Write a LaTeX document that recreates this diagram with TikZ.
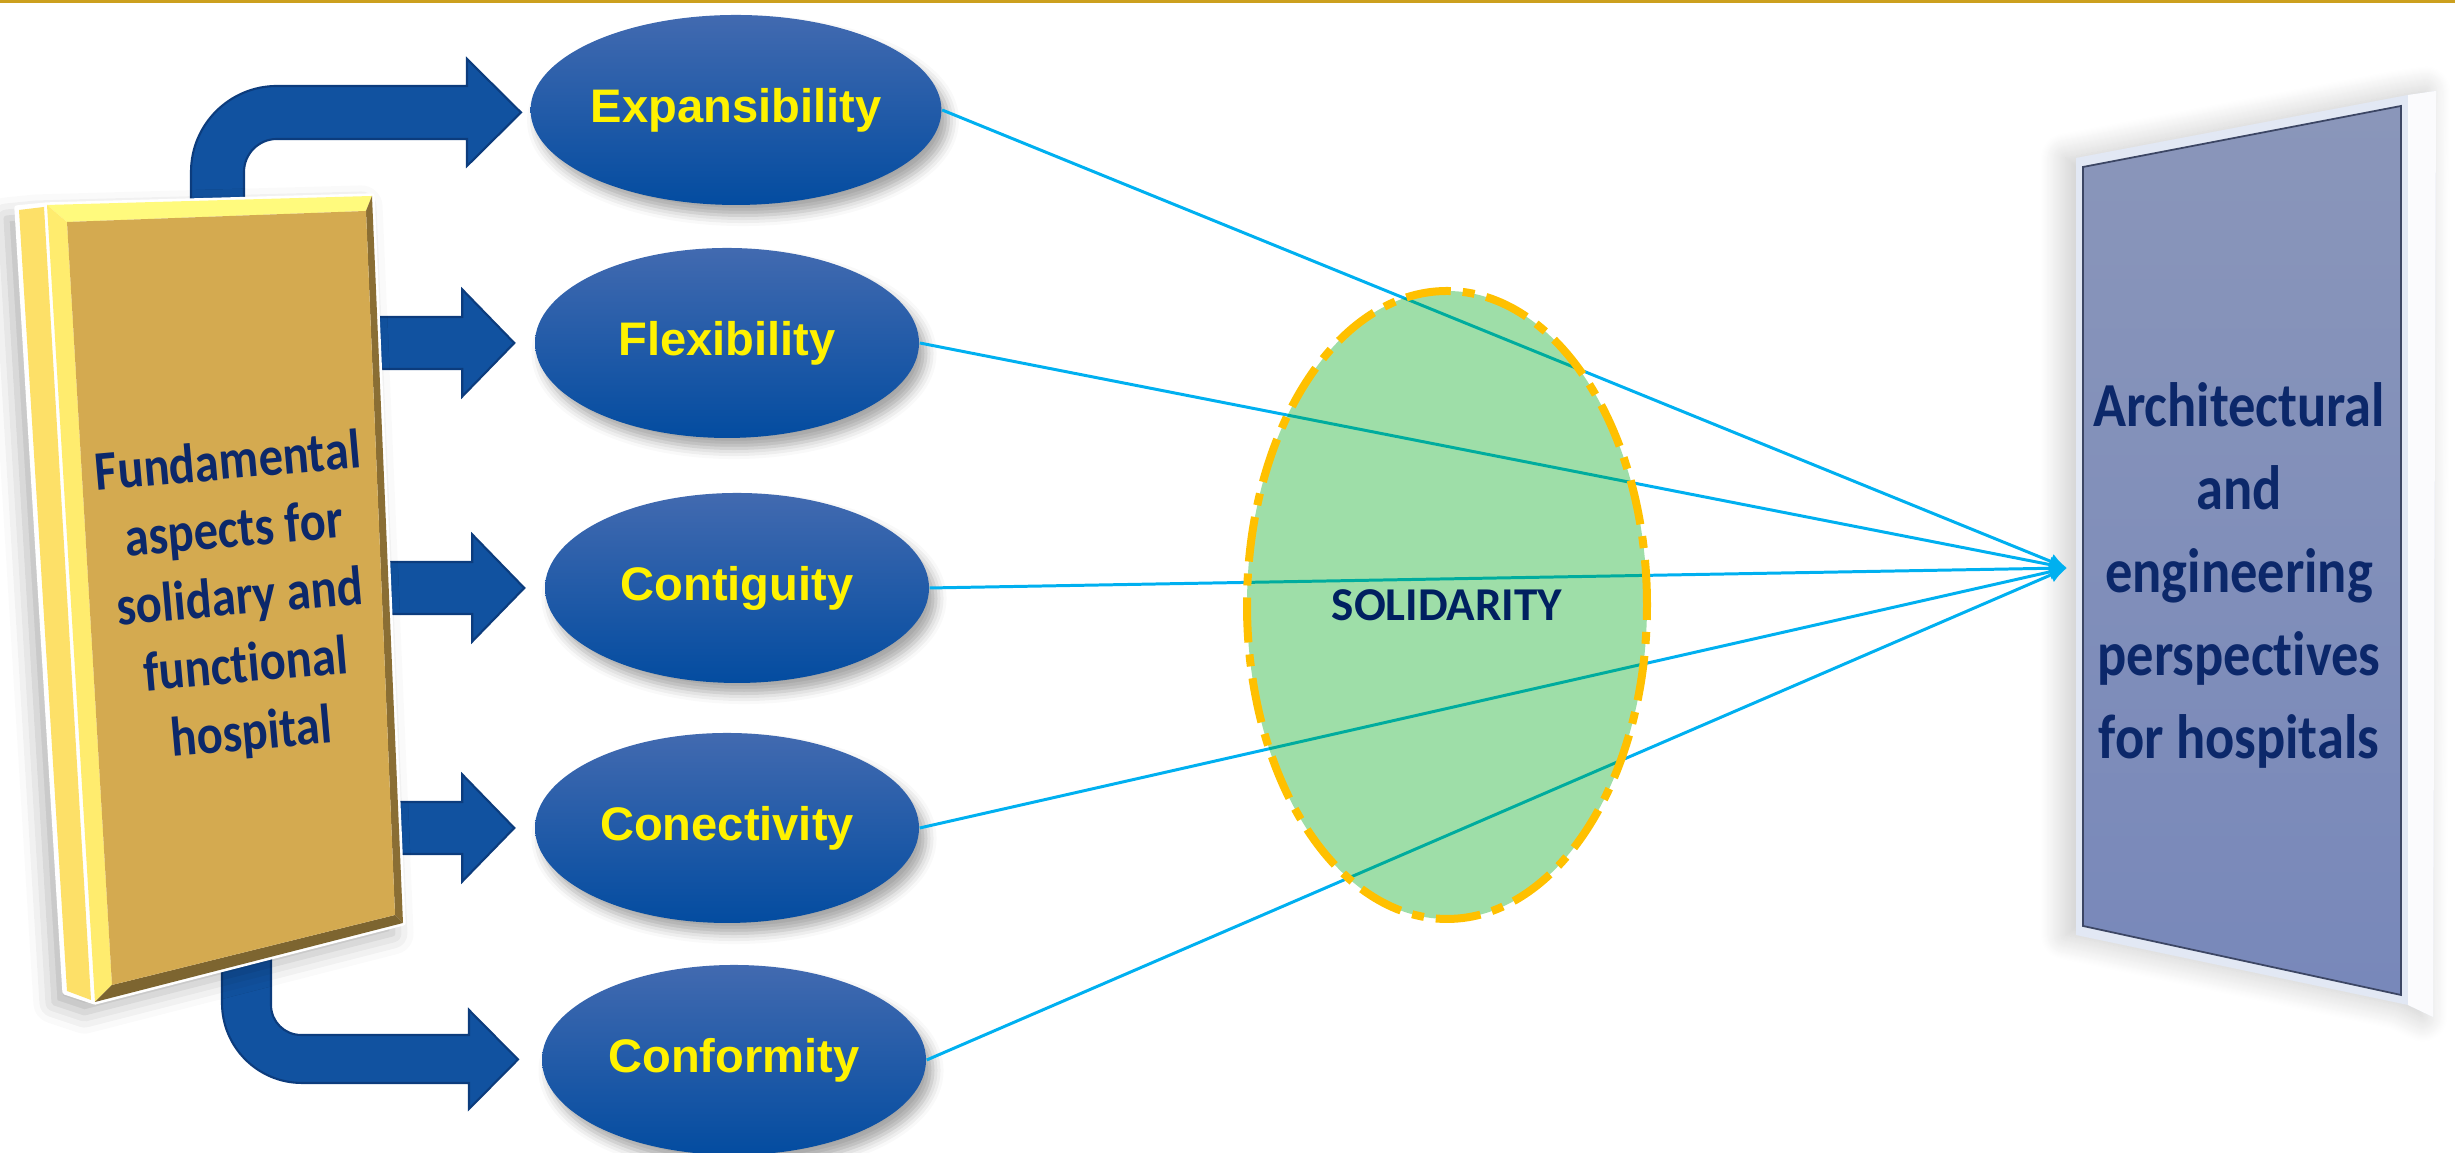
\documentclass[tikz,border=0pt]{standalone}
\usepackage{graphicx}
\usepackage{fontspec}
\setmainfont{Carlito}[Ligatures={NoCommon,NoContextual}]
\newfontfamily\labelfont{Liberation Sans}
\usetikzlibrary{arrows.meta, shapes.geometric, calc, shadows.blur}

\definecolor{rulegold}{RGB}{204,160,30}
\definecolor{navy}{RGB}{12,40,106}
\definecolor{deepnavy}{RGB}{0,32,96}
\definecolor{elltop}{RGB}{66,106,176}
\definecolor{ellbot}{RGB}{3,76,160}
\definecolor{arrowblue}{RGB}{17,82,160}
\definecolor{arrowedge}{RGB}{12,60,125}
\definecolor{linkcyan}{RGB}{0,176,240}
\definecolor{solidgreen}{RGB}{0,168,26}
\definecolor{dashgold}{RGB}{255,192,0}
\definecolor{spine}{RGB}{253,224,104}
\definecolor{boxface}{RGB}{212,170,80}
\definecolor{bevtop}{RGB}{255,250,125}
\definecolor{bevleft}{RGB}{255,236,110}
\definecolor{bevright}{RGB}{138,110,52}
\definecolor{bevbot}{RGB}{125,101,48}
\definecolor{facetop}{RGB}{138,150,186}
\definecolor{facebot}{RGB}{120,136,186}
\definecolor{frameband}{RGB}{226,232,244}
\definecolor{frameline}{RGB}{60,70,100}

% straight block arrow: #1 target ellipse, #2 x where the shaft starts
\newcommand{\blockarrow}[2]{%
  \draw[barrow] let \p1=([xshift=-2mm]#1.west) in
    (\p1) -- (\x1-0.52cm,\y1+0.535cm) -- (\x1-0.52cm,\y1+0.26cm) -- (#2cm,\y1+0.26cm)
    -- (#2cm,\y1-0.26cm) -- (\x1-0.52cm,\y1-0.26cm) -- (\x1-0.52cm,\y1-0.535cm) -- cycle;}

% stacked lines, a little taller than the font
\newcommand{\tallstack}[1]{\scalebox{1}[1.15]{\begin{tabular}{@{}c@{}}#1\end{tabular}}}

\begin{document}
\begin{tikzpicture}

	\tikzstyle{aspect}=[ellipse, inner sep=0pt, minimum width=3.84cm, minimum height=1.9cm, top color=elltop, bottom color=ellbot, text=yellow, font=\labelfont\bfseries\fontsize{13.4}{16}\selectfont, blur shadow={shadow xshift=2pt, shadow yshift=-3pt, shadow blur radius=3pt, shadow opacity=35}]
	\tikzstyle{barrow}=[fill=arrowblue, draw=arrowedge, line width=0.6pt]
	\tikzstyle{link}=[linkcyan, line width=0.85pt, -{Latex[length=5pt, width=4.5pt]}]
	\tikzstyle{solid}=[ellipse, inner sep=0pt, minimum width=4cm, minimum height=6.28cm, fill=solidgreen, fill opacity=0.38, text opacity=1, draw=dashgold, draw opacity=1, line width=0.08cm, dash pattern=on 0.45cm off 0.12cm on 0.12cm off 0.12cm, text=deepnavy, font=\bfseries\fontsize{13.4}{16}\selectfont]

	\useasboundingbox (0,0) rectangle (24.55,11.53);
	\draw[rulegold, line width=0.03cm] (0,11.515) -- (24.55,11.515);

	% panel on the right
	\fill[frameband, blur shadow={shadow xshift=-3pt, shadow yshift=0pt, shadow blur radius=7pt, shadow blur steps=24, shadow opacity=22}] (20.76,9.95) -- (24.08,10.58) -- (24.36,10.62) -- (24.33,1.36) -- (24.08,1.48) -- (20.76,2.18) -- cycle;
	\fill[white!85!frameband] (24.08,10.58) -- (24.36,10.62) -- (24.33,1.36) -- (24.08,1.48) -- cycle;
	\draw[frameline, line width=0.5pt, top color=facetop, bottom color=facebot] (20.83,9.86) -- (24.01,10.47) -- (24.01,1.58) -- (20.83,2.27) -- cycle;
	\node[text=navy, font=\bfseries\fontsize{15.5}{20.5}\selectfont] (persp) at (22.39,5.77) {\tallstack{Architectural\\and\\engineering\\perspectives\\for hospitals}};
	\coordinate (goal) at (20.67,5.85);

	% the five aspects
	\node[aspect] (exp) at (7.36,10.43) {Expansibility};
	\node[aspect] (flex) at (7.27,8.10) {Flexibility};
	\node[aspect] (cont) at (7.37,5.65) {Contiguity};
	\node[aspect] (conn) at (7.27,3.25) {Conectivity};
	\node[aspect] (conf) at (7.34,0.93) {Conformity};

	% block arrows out of the box
	\draw[barrow] (1.91,9.13) -- (1.91,9.81) arc (180:90:0.86) -- (4.67,10.67) -- (4.67,10.94) -- (5.21,10.405) -- (4.67,9.87) -- (4.67,10.14) -- (2.77,10.14) arc (90:180:0.33) -- (2.44,9.13) -- cycle;
	\blockarrow{flex}{3.5}
	\blockarrow{cont}{3.6}
	\blockarrow{conn}{3.7}
	\draw[barrow] (2.22,2.23) -- (2.22,1.50) arc (180:270:0.80) -- (4.69,0.70) -- (4.69,0.44) -- (5.18,0.935) -- (4.69,1.43) -- (4.69,1.18) -- (3.01,1.18) arc (270:180:0.30) -- (2.71,2.23) -- cycle;

	% book-like box
	\coordinate (o1) at (0.47,9.48);
	\coordinate (o2) at (3.72,9.57);
	\coordinate (o3) at (4.03,2.30);
	\coordinate (o4) at (0.95,1.51);
	\coordinate (i1) at (0.67,9.31);
	\coordinate (i2) at (3.66,9.42);
	\coordinate (i3) at (3.95,2.38);
	\coordinate (i4) at (1.12,1.68);
	\filldraw[white, line width=1.5pt, line join=round, blur shadow={shadow xshift=-3pt, shadow yshift=-3pt, shadow blur radius=6pt, shadow opacity=30}] (0.17,9.45) -- (o1) -- (o2) -- (o3) -- (o4) -- (0.65,1.61) -- cycle;
	\fill[spine] (0.19,9.43) -- (0.44,9.46) -- (0.91,1.53) -- (0.67,1.62) -- cycle;
	\fill[bevtop] (o1) -- (o2) -- (i2) -- (i1) -- cycle;
	\fill[bevleft] (o1) -- (i1) -- (i4) -- (o4) -- cycle;
	\fill[bevright] (o2) -- (o3) -- (i3) -- (i2) -- cycle;
	\fill[bevbot] (o4) -- (o3) -- (i3) -- (i4) -- cycle;
	\fill[boxface] (i1) -- (i2) -- (i3) -- (i4) -- cycle;
	\node[rotate=5, text=navy, font=\bfseries\fontsize{13.8}{16.8}\selectfont] (aspects) at (2.40,5.52) {\tallstack{Fundamental\\aspects for\\solidary and\\functional\\hospital}};

	% links towards the panel
	\foreach \n in {exp, flex, cont, conn, conf}
		\draw[link] (\n.east) -- (goal);

	\node[solid] (solidarity) at (14.47,5.48) {SOLIDARITY};

\end{tikzpicture}
\end{document}
